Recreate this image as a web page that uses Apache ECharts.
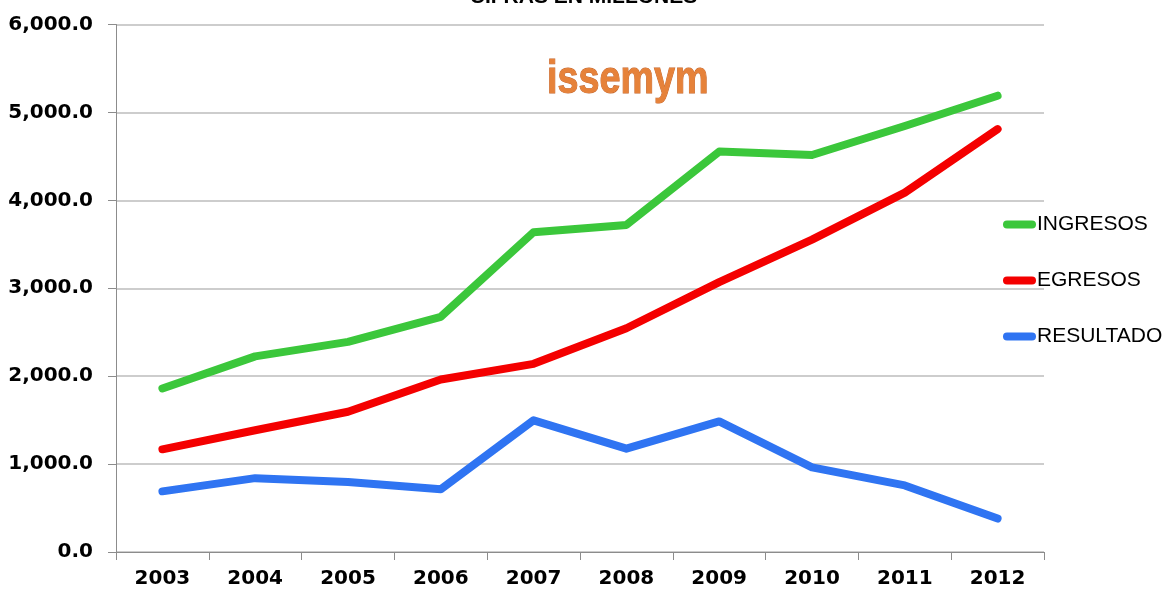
<!DOCTYPE html>
<html>
<head>
<meta charset="utf-8">
<script src="https://cdn.jsdelivr.net/npm/echarts@6/dist/echarts.min.js"></script>
<style>
  html, body { margin: 0; padding: 0; background: #ffffff; }
  #chart { width: 1167px; height: 595px; }
</style>
</head>
<body>
<div id="chart"></div>
<script>
// Years on the category axis
const years = ['2003', '2004', '2005', '2006', '2007', '2008', '2009', '2010', '2011', '2012'];

// Amounts in millions
const ingresos  = [1860, 2225, 2390, 2675, 3638, 3720, 4555, 4515, 4845, 5190];
const egresos   = [1168, 1385, 1595, 1962, 2140, 2545, 3070, 3553, 4088, 4810];
const resultado = [690, 840, 795, 713, 1498, 1175, 1485, 962, 757, 380];

// Value axis range
const yMin = 0;
const yMax = 6000;
const yStep = 1000;

const seriesNames = ['INGRESOS', 'EGRESOS', 'RESULTADO'];
const seriesColors = ['#3BC73B', '#F40000', '#2F74F2'];
const seriesData = [ingresos, egresos, resultado];

const chart = echarts.init(document.getElementById('chart'), null, { renderer: 'canvas' });

const axisFont = 'DejaVu Sans, Liberation Sans, Arial, sans-serif';

chart.setOption({
  backgroundColor: '#ffffff',
  animation: false,
  grid: { left: 116, right: 123, top: 24.5, bottom: 43, containLabel: false },
  xAxis: {
    type: 'category',
    data: years,
    boundaryGap: true,
    axisLine: { show: true, lineStyle: { color: '#8c8c8c', width: 1 } },
    axisTick: { show: true, length: 8, lineStyle: { color: '#8c8c8c' } },
    axisLabel: {
      margin: 17,
      color: '#000000',
      fontFamily: axisFont,
      fontWeight: 'bold',
      fontSize: 20
    },
    splitLine: { show: false }
  },
  yAxis: {
    type: 'value',
    min: yMin,
    max: yMax,
    interval: yStep,
    axisLine: { show: true, lineStyle: { color: '#8c8c8c', width: 1 } },
    axisTick: { show: true, length: 8, lineStyle: { color: '#8c8c8c' } },
    axisLabel: {
      margin: 23,
      color: '#000000',
      fontFamily: axisFont,
      fontWeight: 'bold',
      fontSize: 20,
      formatter: v => v.toLocaleString('en-US', { minimumFractionDigits: 1, maximumFractionDigits: 1 })
    },
    splitLine: { show: true, lineStyle: { color: '#bdbdbd', width: 1.5 } }
  },
  legend: {
    orient: 'vertical',
    left: 998,
    top: 209,
    itemWidth: 33,
    itemHeight: 8,
    itemGap: 35,
    icon: 'path://M4,0 H29 A4,4 0 0 1 29,8 H4 A4,4 0 0 1 4,0 Z',
    textStyle: {
      color: '#000000',
      fontFamily: 'Liberation Sans, Arial, sans-serif',
      fontSize: 21,
      lineHeight: 20,
      padding: [0, 0, 0, -4]
    },
    data: seriesNames
  },
  graphic: [
    {
      type: 'text',
      left: 'center',
      top: -13,
      style: {
        text: 'CIFRAS EN MILLONES',
        fill: '#000000',
        font: 'bold 21px "Liberation Sans", Arial, sans-serif'
      }
    },
    {
      type: 'text',
      x: 547,
      y: 57,
      scaleX: 0.82,
      style: {
        text: 'issemym',
        fill: '#E6823A',
        stroke: '#C2632A',
        lineWidth: 1,
        font: 'bold 46px "Liberation Sans", Arial, sans-serif'
      }
    }
  ],
  series: seriesNames.map((name, i) => ({
    name: name,
    type: 'line',
    data: seriesData[i],
    symbol: 'none',
    showSymbol: false,
    smooth: false,
    itemStyle: { color: seriesColors[i] },
    lineStyle: { color: seriesColors[i], width: 8, cap: 'round', join: 'round' }
  }))
});
</script>
</body>
</html>
